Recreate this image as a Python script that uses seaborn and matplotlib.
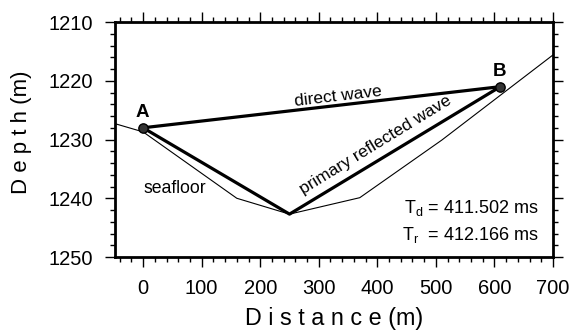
import numpy as np
import pandas as pd
import matplotlib
matplotlib.use("Agg")
import matplotlib.pyplot as plt
from matplotlib.ticker import MultipleLocator
import seaborn as sns

# Seafloor profile (distance in m, depth in m)
seafloor_x = [-48, 0, 160, 250, 370, 510, 700]
seafloor_depth = [1227.3, 1228.7, 1240.0, 1242.7, 1239.9, 1230.1, 1215.6]

# Source / receiver positions
station_names = ["A", "B"]
station_x = [0, 610]
station_depth = [1228.0, 1221.0]

# Reflection point on the seafloor
reflect_x = 250
reflect_depth = 1242.7

# Travel times (ms)
t_direct = 411.502
t_reflected = 412.166

sns.set_style("ticks")
plt.rcParams["font.family"] = ["Liberation Sans", "DejaVu Sans"]
plt.rcParams["mathtext.default"] = "regular"
plt.rcParams["text.color"] = "black"
plt.rcParams["axes.labelcolor"] = "black"

fig = plt.figure(figsize=(5.71, 3.34), dpi=100)
ax = fig.add_axes([0.2014, 0.2305, 0.7671, 0.7035])

sea = pd.DataFrame({"x": seafloor_x, "depth": seafloor_depth})
sns.lineplot(data=sea, x="x", y="depth", sort=False, color="black",
             linewidth=0.8, ax=ax)

direct = pd.DataFrame({"x": station_x, "depth": station_depth})
sns.lineplot(data=direct, x="x", y="depth", sort=False, color="black",
             linewidth=2.3, ax=ax)

refl = pd.DataFrame({"x": [station_x[0], reflect_x, station_x[1]],
                     "depth": [station_depth[0], reflect_depth, station_depth[1]]})
sns.lineplot(data=refl, x="x", y="depth", sort=False, color="black",
             linewidth=2.3, ax=ax)

sns.scatterplot(x=station_x, y=station_depth, color="#333333", edgecolor="black",
                s=45, linewidth=1.0, ax=ax, zorder=5)
for name, sx, sd in zip(station_names, station_x, station_depth):
    ax.text(sx - 2, sd - 1.1, name, ha="center", va="bottom",
            fontsize=13.5, fontweight="bold")

ax.text(333, 1222.6, "direct wave", fontsize=12.5, rotation=6.7,
        ha="center", va="center", rotation_mode="anchor")
ax.text(397, 1231.0, "primary reflected wave", fontsize=12.5, rotation=31.5,
        ha="center", va="center", rotation_mode="anchor")
ax.text(0, 1238.3, "seafloor", fontsize=12.7, ha="left", va="center")
ax.text(675, 1241.7, f"T$_d$ = {t_direct:.3f} ms", fontsize=13,
        ha="right", va="center")
ax.text(675, 1246.3, f"T$_r$  = {t_reflected:.3f} ms", fontsize=13,
        ha="right", va="center")

ax.set_xlim(-48, 700)
ax.set_ylim(1250, 1210)
ax.xaxis.set_major_locator(MultipleLocator(100))
ax.xaxis.set_minor_locator(MultipleLocator(20))
ax.yaxis.set_major_locator(MultipleLocator(10))
ax.yaxis.set_minor_locator(MultipleLocator(2))
ax.tick_params(which="both", direction="out", top=True, right=True,
               width=1.0, labelsize=14.5, colors="black")
ax.tick_params(which="major", length=7)
ax.tick_params(which="minor", length=3.5)
ax.tick_params(axis="x", pad=9)
ax.tick_params(axis="y", pad=9)
for sp in ax.spines.values():
    sp.set_visible(True)
    sp.set_linewidth(2.0)
    sp.set_color("black")

ax.set_xlabel("D i s t a n c e (m)", fontsize=16.8, labelpad=6)
ax.set_ylabel("D e p t h (m)", fontsize=16)
ax.yaxis.set_label_coords(-0.19, 0.53)

fig.savefig("out.png", dpi=100)
